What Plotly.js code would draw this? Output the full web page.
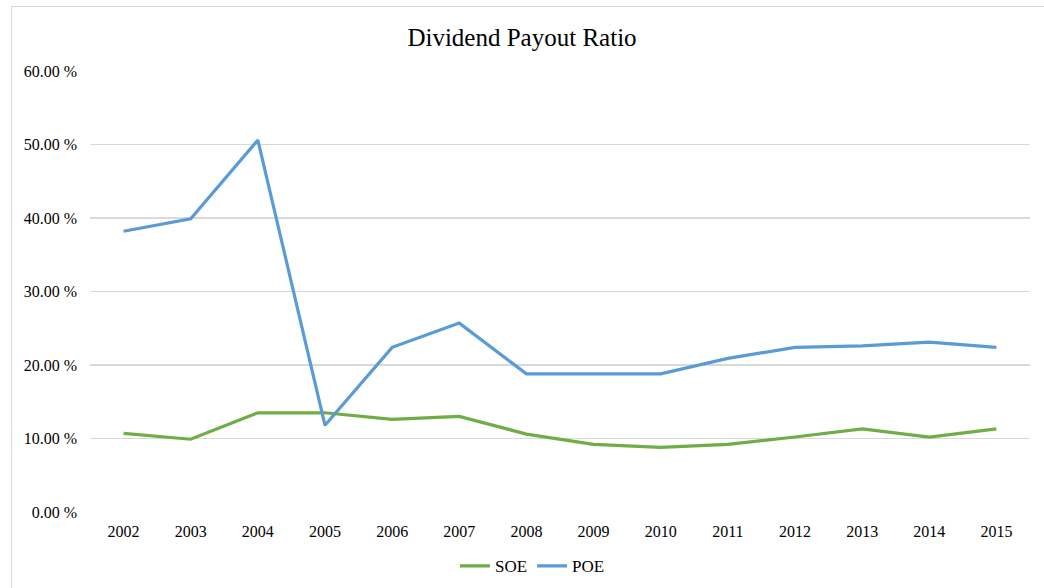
<!DOCTYPE html>
<html>
<head>
<meta charset="utf-8">
<script src="https://cdn.plot.ly/plotly-3.0.1.min.js"></script>
<style>
html,body{margin:0;padding:0;background:#fff;}
#wrap{position:relative;width:1044px;height:588px;overflow:hidden;}
#chart{width:1044px;height:588px;}
#frame{position:absolute;left:11px;top:6px;width:1050px;height:600px;border:1px solid #d9d9d9;pointer-events:none;}
</style>
</head>
<body>
<div id="wrap"><div id="chart"></div><div id="frame"></div></div>
<script>
const years = ['2002','2003','2004','2005','2006','2007','2008','2009','2010','2011','2012','2013','2014','2015'];
const soe = [10.7, 9.9, 13.5, 13.5, 12.6, 13.0, 10.6, 9.2, 8.8, 9.2, 10.2, 11.3, 10.2, 11.3];
const poe = [38.2, 39.9, 50.6, 11.8, 22.4, 25.7, 18.8, 18.8, 18.8, 20.9, 22.4, 22.6, 23.1, 22.4];
const tickVals = [0, 10, 20, 30, 40, 50, 60];
const tickText = ['0.00 %', '10.00 %', '20.00 %', '30.00 %', '40.00 %', '50.00 %', '60.00 %'];

const font = 'Liberation Serif, Times New Roman, serif';
const traces = [
  {x: years, y: soe, name: 'SOE', type: 'scatter', mode: 'lines',
   line: {color: '#70AD47', width: 3.2}},
  {x: years, y: poe, name: 'POE', type: 'scatter', mode: 'lines',
   line: {color: '#5B9BD5', width: 3.2}}
];
const layout = {
  width: 1044, height: 588,
  margin: {l: 90, r: 14, t: 71, b: 76},
  paper_bgcolor: '#fff', plot_bgcolor: '#fff',
  font: {family: font, size: 16, color: '#000'},
  title: {text: 'Dividend Payout Ratio', font: {family: font, size: 25, color: '#000'},
          x: 0.5, xanchor: 'center', y: 0.937, yanchor: 'middle'},
  xaxis: {type: 'category', automargin: false, showgrid: false, zeroline: false, showline: false,
          ticks: '', ticklabelstandoff: 8, tickfont: {family: font, size: 16}, range: [-0.5, 13.5]},
  yaxis: {range: [0, 60], automargin: false, tickvals: tickVals, ticktext: tickText, showgrid: true,
          gridcolor: '#d9d9d9', gridwidth: 1.5, zeroline: false, showline: false,
          ticks: '', ticklabelstandoff: 12, tickfont: {family: font, size: 16}},
  showlegend: true,
  legend: {orientation: 'h', x: 0.51, xanchor: 'center', xref: 'container',
           y: 0.037, yanchor: 'middle', yref: 'container',
           font: {family: font, size: 17}, itemwidth: 30, tracegroupgap: 0},
  hovermode: false
};
Plotly.newPlot('chart', traces, layout, {displayModeBar: false, staticPlot: true});
</script>
</body>
</html>
